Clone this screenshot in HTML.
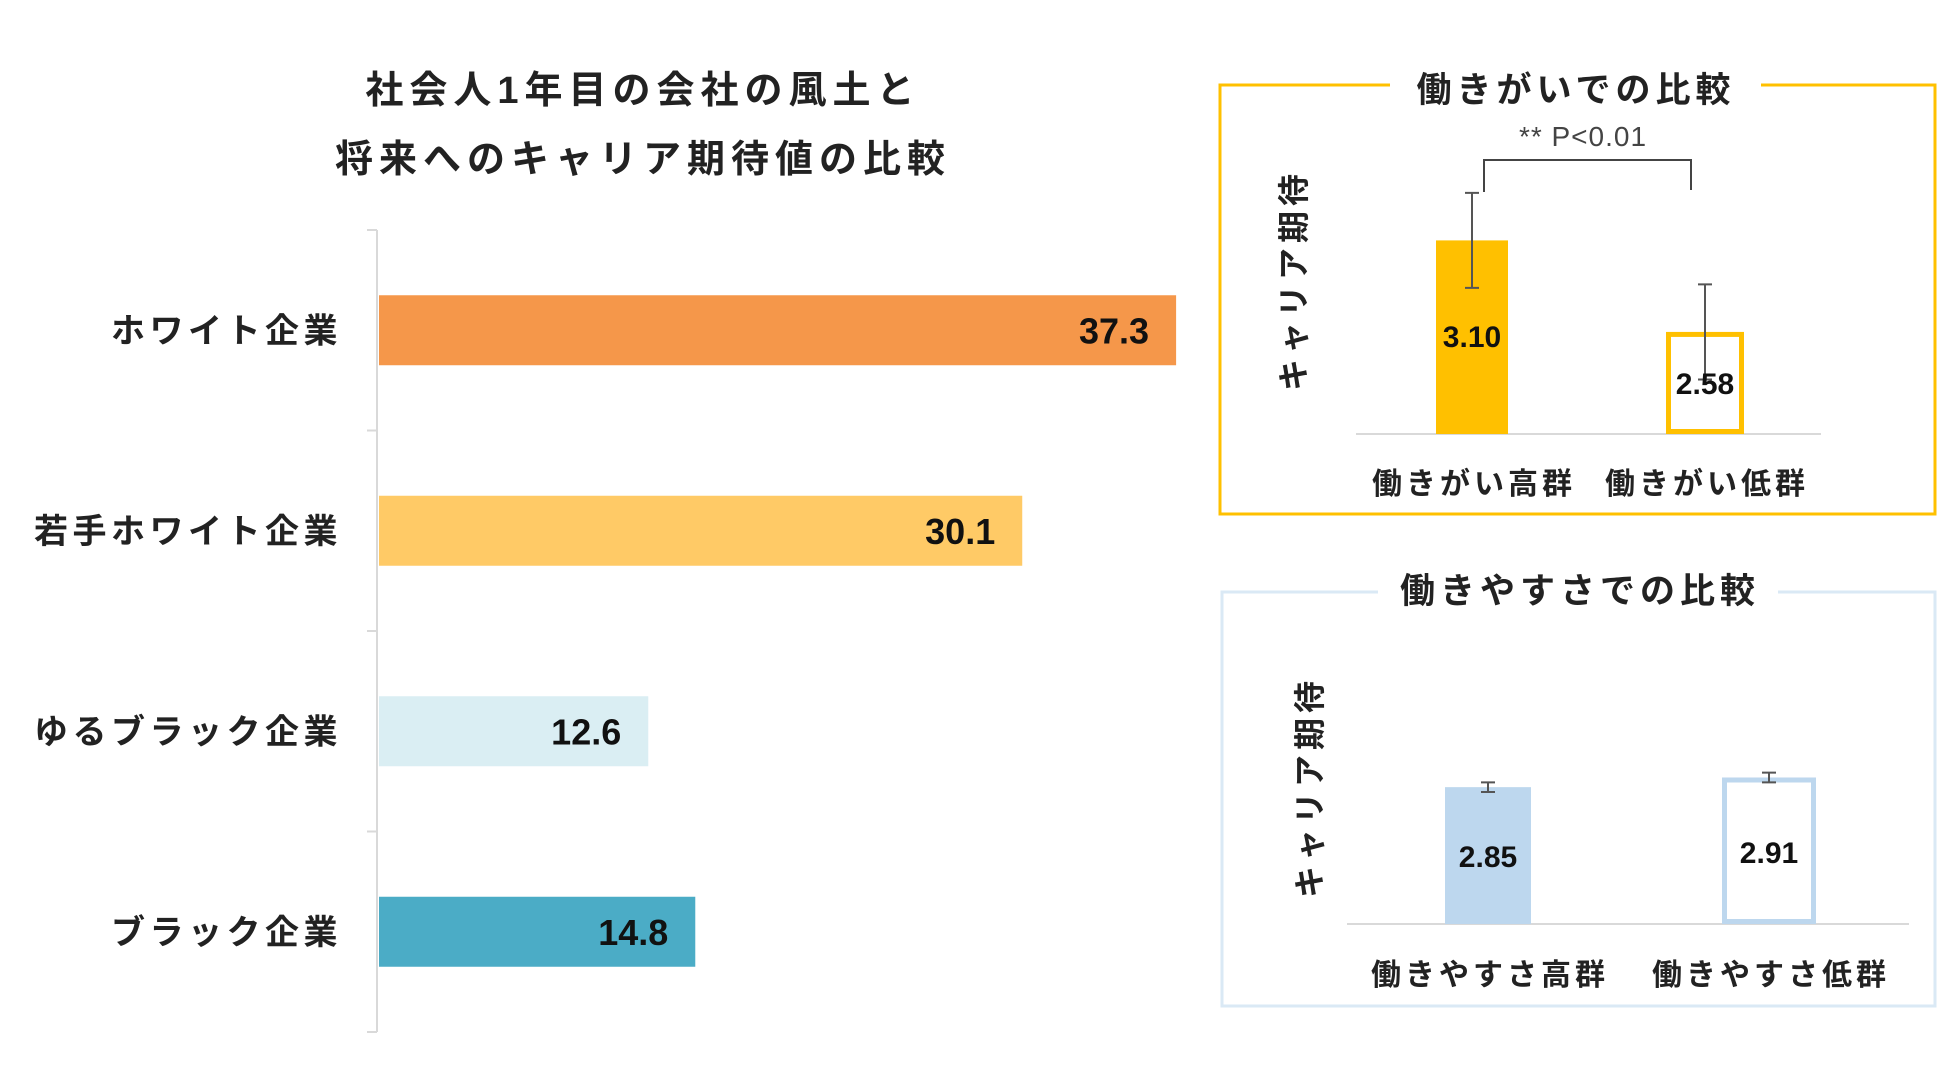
<!DOCTYPE html>
<html><head><meta charset="utf-8"><style>
body{margin:0;background:#fff;width:1950px;height:1080px;overflow:hidden;font-family:"Liberation Sans","Noto Sans CJK JP",sans-serif}
</style></head><body>
<svg id="svg" width="1950" height="1080" xmlns="http://www.w3.org/2000/svg" style="font-family:'Liberation Sans','Noto Sans CJK JP',sans-serif">
<text x="643" y="103" font-size="38" font-weight="bold" text-anchor="middle" fill="#222" letter-spacing="6">社会人1年目の会社の風土と</text>
<text x="643" y="172" font-size="38" font-weight="bold" text-anchor="middle" fill="#222" letter-spacing="6">将来へのキャリア期待値の比較</text>
<g id="left"></g>
<g id="p1">
<rect x="1220" y="85" width="715" height="429" fill="none" stroke="#FFC000" stroke-width="3"/>
<rect x="1390" y="70" width="371" height="30" fill="#fff"/>
<text x="1576" y="102" font-size="35" font-weight="bold" text-anchor="middle" fill="#222" letter-spacing="5">働きがいでの比較</text>
<text x="1583" y="146" font-size="28" text-anchor="middle" fill="#444" letter-spacing="1">** P&lt;0.01</text>
<path d="M1484 192 V160 H1691 V190" fill="none" stroke="#444" stroke-width="2"/>
<text transform="translate(1305,280) rotate(-90)" font-size="32" font-weight="bold" text-anchor="middle" fill="#222" letter-spacing="5">キャリア期待</text>
</g>
<g id="p2">
<rect x="1222" y="592" width="713" height="414" fill="none" stroke="#DAE9F5" stroke-width="3"/>
<rect x="1378" y="575" width="400" height="30" fill="#fff"/>
<text x="1580" y="603" font-size="35" font-weight="bold" text-anchor="middle" fill="#222" letter-spacing="5">働きやすさでの比較</text>
<text transform="translate(1321,787) rotate(-90)" font-size="32" font-weight="bold" text-anchor="middle" fill="#222" letter-spacing="5">キャリア期待</text>
</g>
</svg>
<script>
const leftCats=["ホワイト企業","若手ホワイト企業","ゆるブラック企業","ブラック企業"];
const leftVals=[37.3,30.1,12.6,14.8];
const leftColors=["#F5974A","#FFCA66","#DAEEF3","#4BACC6"];
const p1Cats=["働きがい高群","働きがい低群"];
const p1Vals=[3.10,2.58];
const p1Err=[0.27,0.27];
const p2Cats=["働きやすさ高群","働きやすさ低群"];
const p2Vals=[2.85,2.91];
const p2Err=[0.03,0.03];
const NS="http://www.w3.org/2000/svg";
function mk(p,t,a){const e=document.createElementNS(NS,t);for(const k in a)e.setAttribute(k,a[k]);p.appendChild(e);return e;}
const L=document.getElementById('left');
const x0=379,pxPer=21.37,bandTop=230,band=200.5;
const xs=v=>x0+v*pxPer;
const ax=mk(L,'line',{x1:377,y1:230,x2:377,y2:1032,stroke:'#d9d9d9','stroke-width':2});


for(let i=0;i<=leftCats.length;i++){const y=bandTop+i*band;const t=mk(L,'line',{x1:367,y1:y,x2:377,y2:y,stroke:'#d9d9d9','stroke-width':2});

}
leftCats.forEach((c,i)=>{const cy=bandTop+band*(i+0.5);
const r=mk(L,'rect',{x:x0,y:cy-35,width:xs(leftVals[i])-x0,height:70,fill:leftColors[i]});


const v=mk(L,'text',{x:xs(leftVals[i])-27,y:cy+13,'font-size':36,'font-weight':'bold','text-anchor':'end',fill:'#111'});v.textContent=leftVals[i].toFixed(1);


const l=mk(L,'text',{x:342,y:cy+12,'font-size':34,'font-weight':'bold','text-anchor':'end',fill:'#222','letter-spacing':4.5});l.textContent=c;

});
function panel(g,cats,vals,errs,o){
const ys=v=>o.base-(v-o.min)*o.k;
const b=mk(g,'line',{x1:o.bx1,y1:o.base,x2:o.bx2,y2:o.base,stroke:'#d9d9d9','stroke-width':2});


cats.forEach((c,i)=>{const cx=o.cx[i],w=o.w[i],top=ys(vals[i]);let r;
if(i==0)r=mk(g,'rect',{x:cx-w/2,y:top,width:w,height:o.base-top,fill:o.col});
else r=mk(g,'rect',{x:cx-w/2+2.5,y:top+2.5,width:w-5,height:o.base-top-5,fill:'#fff',stroke:o.col,'stroke-width':5});


const e1=ys(vals[i]+errs[i]),e2=ys(vals[i]-errs[i]);
const eb=mk(g,'path',{d:`M${cx} ${e1}V${e2}M${cx-7} ${e1}H${cx+7}M${cx-7} ${e2}H${cx+7}`,stroke:'#555','stroke-width':2,fill:'none'});


const v=mk(g,'text',{x:cx,y:o.vy[i],'font-size':30,'font-weight':'bold','text-anchor':'middle',fill:'#111'});v.textContent=vals[i].toFixed(2);


const l=mk(g,'text',{x:cx+2,y:o.ly,'font-size':30,'font-weight':'bold','text-anchor':'middle',fill:'#222','letter-spacing':4});l.textContent=c;

});}
panel(document.getElementById('p1'),p1Cats,p1Vals,p1Err,{base:434,min:2,k:176,bx1:1356,bx2:1821,cx:[1472,1705],w:[72,78],col:'#FFC000',vy:[347,394],ly:494});
panel(document.getElementById('p2'),p2Cats,p2Vals,p2Err,{base:924,min:2,k:161,bx1:1347,bx2:1909,cx:[1488,1769],w:[86,94],col:'#BDD7EE',vy:[867,863],ly:985});
</script>
</body></html>
